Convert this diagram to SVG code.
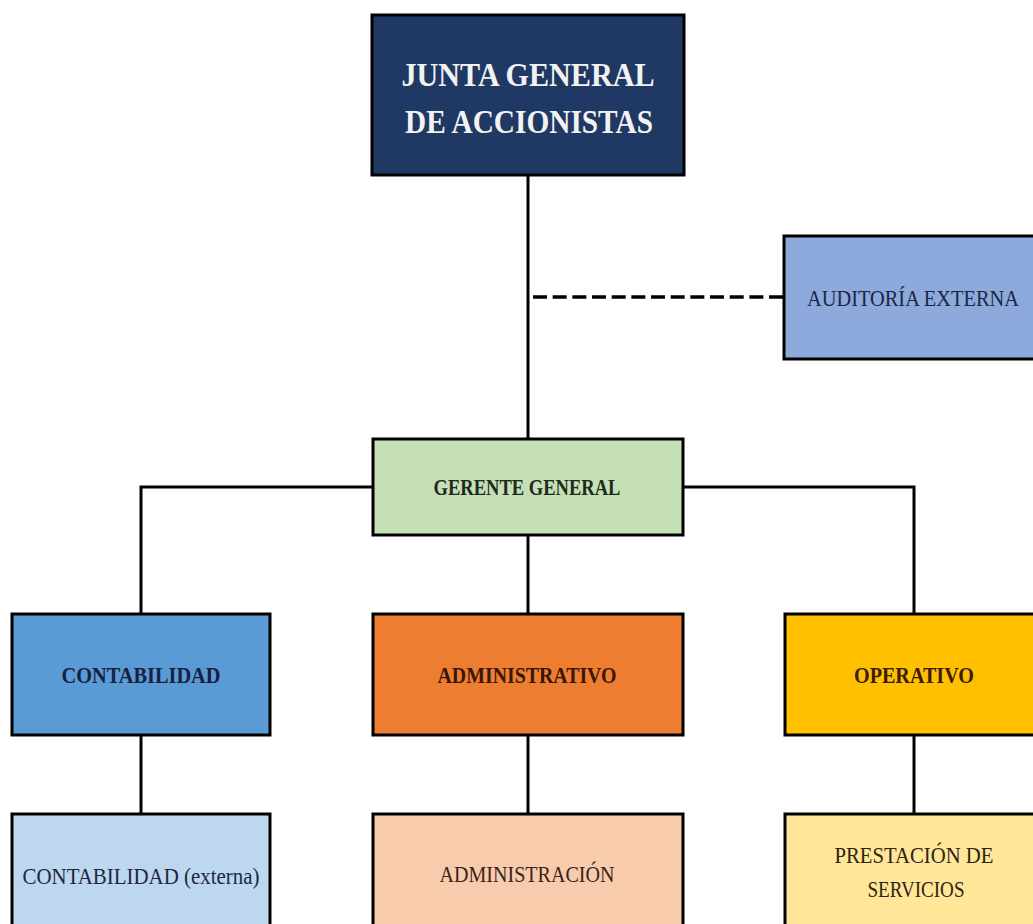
<svg xmlns="http://www.w3.org/2000/svg" width="1033" height="924" viewBox="0 0 1033 924">
  <style>
    .box { stroke: #000; stroke-width: 3; }
    .lbl { font-family: "Liberation Serif", "Times New Roman", serif; text-anchor: middle; }
    .b { font-weight: bold; }
    .wire { fill: none; stroke: #000; stroke-width: 3; }
    .dash { stroke-width: 3.5; stroke-dasharray: 14 5.67; }
  </style>
  <rect width="1033" height="924" fill="#ffffff"/>

  <!-- connectors -->
  <g id="connectors">
    <line class="wire" x1="528" y1="176" x2="528" y2="438"/>
    <line class="wire dash" x1="533" y1="297" x2="783" y2="297"/>
    <polyline class="wire" points="141,613 141,487 373,487"/>
    <polyline class="wire" points="683,487 914,487 914,613"/>
    <line class="wire" x1="528" y1="535" x2="528" y2="613"/>
    <line class="wire" x1="141" y1="736" x2="141" y2="813"/>
    <line class="wire" x1="528" y1="736" x2="528" y2="813"/>
    <line class="wire" x1="914" y1="736" x2="914" y2="813"/>
  </g>

  <g id="junta">
    <rect class="box" x="372" y="15" width="312" height="160" fill="#1F3864"/>
    <text class="lbl b" x="528" y="86" font-size="33" fill="#F2F2F2" textLength="253" lengthAdjust="spacingAndGlyphs">JUNTA GENERAL</text>
    <text class="lbl b" x="529" y="133" font-size="33" fill="#F2F2F2" textLength="248" lengthAdjust="spacingAndGlyphs">DE ACCIONISTAS</text>
  </g>

  <g id="auditoria">
    <rect class="box" x="784" y="236" width="260" height="123" fill="#8EA9DB"/>
    <text class="lbl" x="913" y="306" font-size="24" fill="#1C2744" textLength="212" lengthAdjust="spacingAndGlyphs">AUDITORÍA EXTERNA</text>
  </g>

  <g id="gerente">
    <rect class="box" x="373" y="439" width="310" height="96" fill="#C5E0B4"/>
    <text class="lbl b" x="527" y="495" font-size="24" fill="#1F2A1F" textLength="187" lengthAdjust="spacingAndGlyphs">GERENTE GENERAL</text>
  </g>

  <g id="contabilidad">
    <rect class="box" x="12" y="614" width="258" height="121" fill="#5B9BD5"/>
    <text class="lbl b" x="141" y="683" font-size="24" fill="#14223F" textLength="159" lengthAdjust="spacingAndGlyphs">CONTABILIDAD</text>
  </g>

  <g id="administrativo">
    <rect class="box" x="373" y="614" width="310" height="121" fill="#ED7D31"/>
    <text class="lbl b" x="527" y="683" font-size="24" fill="#3A1608" textLength="179" lengthAdjust="spacingAndGlyphs">ADMINISTRATIVO</text>
  </g>

  <g id="operativo">
    <rect class="box" x="785" y="614" width="260" height="121" fill="#FFC000"/>
    <text class="lbl b" x="914" y="683" font-size="24" fill="#3A1C08" textLength="120" lengthAdjust="spacingAndGlyphs">OPERATIVO</text>
  </g>

  <g id="contabilidad-externa">
    <rect class="box" x="12" y="814" width="258" height="130" fill="#BDD7EE"/>
    <text class="lbl" x="141" y="884" font-size="24" fill="#1C2744" textLength="237" lengthAdjust="spacingAndGlyphs">CONTABILIDAD (externa)</text>
  </g>

  <g id="administracion">
    <rect class="box" x="373" y="814" width="310" height="130" fill="#F8CBAD"/>
    <text class="lbl" x="527" y="882" font-size="24" fill="#3A2418" textLength="175" lengthAdjust="spacingAndGlyphs">ADMINISTRACIÓN</text>
  </g>

  <g id="prestacion">
    <rect class="box" x="785" y="814" width="260" height="130" fill="#FFE699"/>
    <text class="lbl" x="914" y="863" font-size="24" fill="#2E2410" textLength="159" lengthAdjust="spacingAndGlyphs">PRESTACIÓN DE</text>
    <text class="lbl" x="916" y="897" font-size="24" fill="#2E2410" textLength="97" lengthAdjust="spacingAndGlyphs">SERVICIOS</text>
  </g>
</svg>
